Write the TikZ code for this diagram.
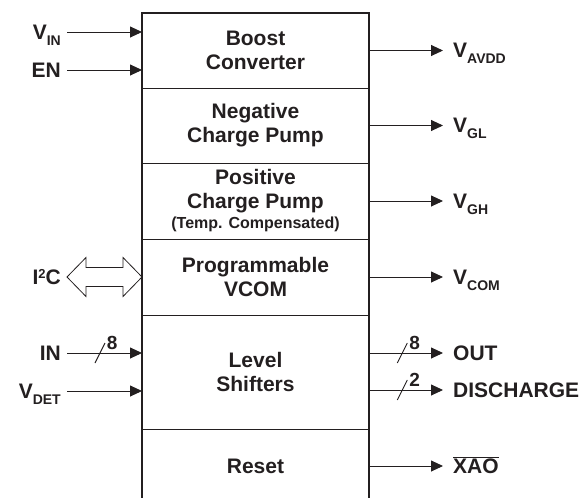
\documentclass[tikz,border=0pt]{standalone}
\usepackage{fontspec}
\setmainfont{Liberation Sans}
\usetikzlibrary{arrows.meta,positioning}
\definecolor{ink}{HTML}{231F20}
\newcommand{\lowidx}[1]{\raisebox{-6pt}{\fontsize{14}{14}\selectfont #1}}
\newcommand{\highidx}[1]{\raisebox{6pt}{\fontsize{13}{13}\selectfont #1}}

\begin{document}
\begin{tikzpicture}[x=1pt,y=-1pt,
        font=\fontsize{21}{24}\selectfont\bfseries,
        block/.style={draw=ink, line width=1pt, minimum width=227pt, inner sep=0pt, outer sep=0pt, align=center, text=ink},
        frame/.style={draw=ink, line width=1.5pt},
        sig/.style={draw=ink, line width=0.9pt, -{Triangle[length=12pt,width=11pt]}},
        bus/.style={draw=ink, line width=0.9pt},
        inlbl/.style={anchor=base east, inner sep=0pt, xshift=-6pt, yshift=-7pt, text=ink},
        outlbl/.style={anchor=base west, inner sep=0pt, xshift=10pt, yshift=-7pt, text=ink},
        buslbl/.style={anchor=west, inner sep=1.5pt, text=ink, font=\fontsize{19}{19}\selectfont\bfseries}]
        \useasboundingbox (0,0) rectangle (582,498);

        % blocks
        \node[block, minimum height=75pt] (boost) at (255.5,50.5) {Boost\\Converter};
        \node[block, minimum height=75pt, below=0pt of boost] (negpump) {Negative\\Charge Pump};
        \node[block, minimum height=76pt, below=0pt of negpump] (pospump) {Positive\\Charge Pump\\[-4pt]{\fontsize{16}{16}\selectfont(Temp. Compensated)}};
        \node[block, minimum height=76pt, below=0pt of pospump] (vcom) {Programmable\\VCOM};
        \node[block, minimum height=114pt, below=0pt of vcom] (shift) {Level\\Shifters};
        \node[block, minimum height=74pt, below=0pt of shift] (reset) {Reset};
        \draw[frame] (reset.south west) -- (boost.north west) -- (boost.north east) -- (reset.south east);

        % inputs
        \coordinate (vin) at ([xshift=-75pt,yshift=18.5pt]boost.west);
        \coordinate (en) at ([xshift=-75pt,yshift=-19.5pt]boost.west);
        \coordinate (i2c) at ([xshift=-75pt]vcom.west);
        \coordinate (in) at ([xshift=-75pt,yshift=19pt]shift.west);
        \coordinate (vdet) at ([xshift=-75pt,yshift=-19pt]shift.west);
        \draw[sig] (vin) -- (vin -| boost.west);
        \draw[sig] (en) -- (en -| boost.west);
        \draw[sig] (in) -- coordinate[pos=0.44] (inbus) (in -| shift.west);
        \draw[sig] (vdet) -- (vdet -| shift.west);
        \draw[draw=ink, line width=0.8pt] (i2c) -- ++(19,-19.5) -- ++(0,10) -- ++(37,0) -- ++(0,-10) -- (vcom.west)
            -- ++(-19,19.5) -- ++(0,-10) -- ++(-37,0) -- ++(0,10) -- cycle;
        \draw[bus] (inbus) ++(-5,10) -- ++(10,-20) node[buslbl] (inw) {8};

        \node[inlbl] (vinlbl) at (vin) {V\lowidx{IN}};
        \node[inlbl] (enlbl) at (en) {EN};
        \node[inlbl] (i2clbl) at (i2c) {I\highidx{2}C};
        \node[inlbl] (inlbl) at (in) {IN};
        \node[inlbl] (vdetlbl) at (vdet) {V\lowidx{DET}};

        % outputs
        \draw[sig] (boost.east) -- ++(74,0) coordinate (avdd);
        \draw[sig] (negpump.east) -- ++(74,0) coordinate (vgl);
        \draw[sig] (pospump.east) -- ++(74,0) coordinate (vgh);
        \draw[sig] (vcom.east) -- ++(74,0) coordinate (vcm);
        \draw[sig] ([yshift=19pt]shift.east) -- coordinate[pos=0.45] (outbus) ++(74,0) coordinate (out);
        \draw[sig] ([yshift=-18pt]shift.east) -- coordinate[pos=0.45] (disbus) ++(74,0) coordinate (dis);
        \draw[sig] (reset.east) -- ++(74,0) coordinate (xao);
        \draw[bus] (outbus) ++(-5,10) -- ++(10,-20) node[buslbl] (outw) {8};
        \draw[bus] (disbus) ++(-5,10) -- ++(10,-20) node[buslbl] (disw) {2};

        \node[outlbl] (avddlbl) at (avdd) {V\lowidx{AVDD}};
        \node[outlbl] (vgllbl) at (vgl) {V\lowidx{GL}};
        \node[outlbl] (vghlbl) at (vgh) {V\lowidx{GH}};
        \node[outlbl] (vcmlbl) at (vcm) {V\lowidx{COM}};
        \node[outlbl] (outlbl) at (out) {OUT};
        \node[outlbl] (dislbl) at (dis) {DISCHARGE};
        \node[outlbl] (xaolbl) at (xao) {$\overline{\mbox{XAO}}$};
\end{tikzpicture}
\end{document}
